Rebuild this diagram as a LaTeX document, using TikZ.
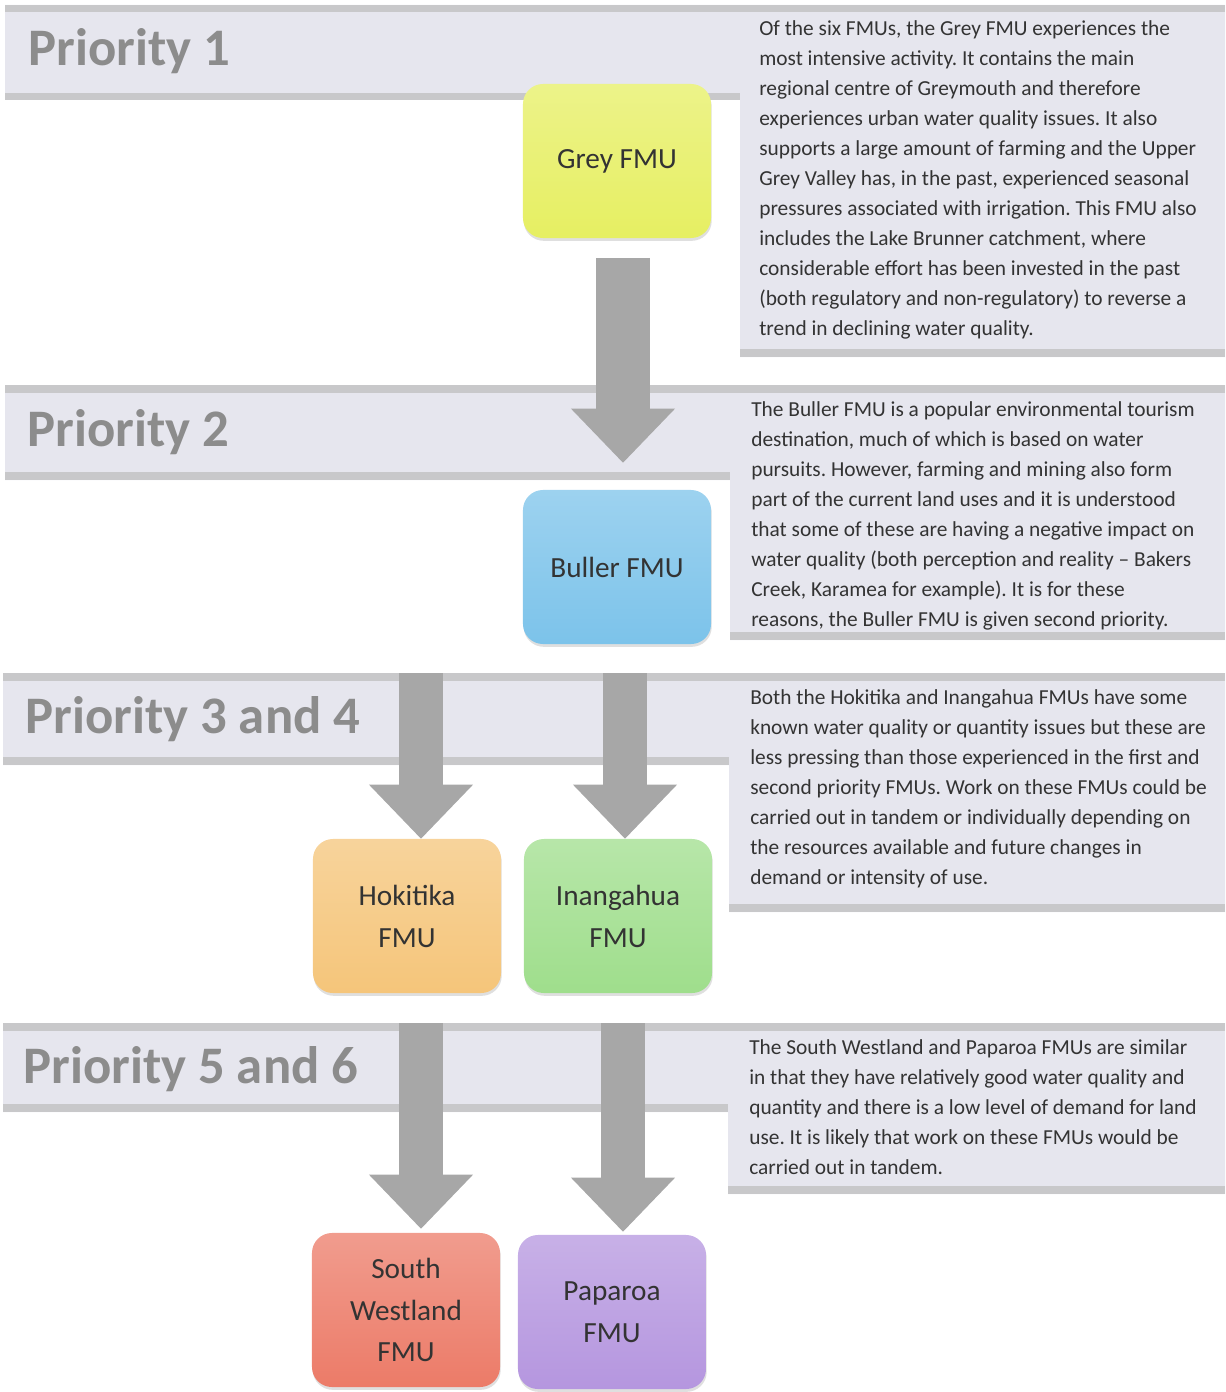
\documentclass[tikz,border=0pt]{standalone}
\usepackage{fontspec}
\setmainfont{Carlito}
\usetikzlibrary{arrows.meta,shadows}
\frenchspacing

\definecolor{bandfill}{HTML}{E6E6EE}
\definecolor{bandline}{HTML}{C8C8CA}
\definecolor{headgrey}{HTML}{8C8C8C}
\definecolor{textgrey}{HTML}{333333}
\definecolor{arrowgrey}{HTML}{A7A7A7}
\definecolor{fmuyellow}{HTML}{E6EF62}
\definecolor{fmublue}{HTML}{7CC3EA}
\definecolor{fmuorange}{HTML}{F5C57A}
\definecolor{fmugreen}{HTML}{9FDE8C}
\definecolor{fmured}{HTML}{EC7B68}
\definecolor{fmupurple}{HTML}{B596DF}

\tikzset{
	heading/.style={anchor=base west, inner sep=0pt, text=headgrey,
		font=\fontsize{37.5}{40}\selectfont\bfseries},
	blurb/.style={anchor=north west, inner sep=0pt, align=left, text=textgrey,
		font=\fontsize{15.2}{21.34}\selectfont},
	fmubox/.style={rounded corners=0.5cm, minimum width=4.7cm, minimum height=3.85cm,
		align=center, text=textgrey, font=\fontsize{20.8}{29.8}\selectfont,
		top color=#1!75!white, bottom color=#1,
		drop shadow={opacity=0.25, shadow xshift=0.5pt, shadow yshift=-2pt}},
	fatarrow/.style={draw=arrowgrey, line width=#1,
		-{Triangle[width=2.6cm, length=1.35cm, line width=0pt]}}
}

\begin{document}
\begin{tikzpicture}[x=0.025cm, y=-0.025cm]

		\useasboundingbox (0,0) rectangle (1225,1392);

		%---------------------
		% bands
		%---------------------
		% P1
		\fill[bandfill] (5,5) -- (1225,5) -- (1225,357) -- (740,357) -- (740,100) -- (5,100) -- cycle;
		\fill[bandline] (5,5) rectangle (1225,12);
		\fill[bandline] (5,93) rectangle (740,100);
		\fill[bandline] (740,349) rectangle (1225,357);

		% P2
		\fill[bandfill] (5,385) -- (1225,385) -- (1225,640) -- (730,640) -- (730,480) -- (5,480) -- cycle;
		\fill[bandline] (5,385) rectangle (1225,393);
		\fill[bandline] (5,472) rectangle (730,480);
		\fill[bandline] (730,632) rectangle (1225,640);

		% P3/4
		\fill[bandfill] (3,673) -- (1225,673) -- (1225,912) -- (729,912) -- (729,765) -- (3,765) -- cycle;
		\fill[bandline] (3,673) rectangle (1225,681);
		\fill[bandline] (3,757) rectangle (729,765);
		\fill[bandline] (729,904) rectangle (1225,912);

		% P5/6
		\fill[bandfill] (3,1023) -- (1225,1023) -- (1225,1194) -- (728,1194) -- (728,1112) -- (3,1112) -- cycle;
		\fill[bandline] (3,1023) rectangle (1225,1031);
		\fill[bandline] (3,1104) rectangle (728,1112);
		\fill[bandline] (728,1186) rectangle (1225,1194);

		% headings
		\node[heading] (p1) at (28,66) {Priority 1};
		\node[heading] (p2) at (27,446) {Priority 2};
		\node[heading] (p34) at (25,733) {Priority 3 and 4};
		\node[heading] (p56) at (23,1083) {Priority 5 and 6};

		%---------------------
		% descriptions
		%---------------------
		\node[blurb] (t1) at (759,20) {Of the six FMUs, the Grey FMU experiences the\\
			most intensive activity. It contains the main\\
			regional centre of Greymouth and therefore\\
			experiences urban water quality issues. It also\\
			supports a large amount of farming and the Upper\\
			Grey Valley has, in the past, experienced seasonal\\
			pressures associated with irrigation. This FMU also\\
			includes the Lake Brunner catchment, where\\
			considerable effort has been invested in the past\\
			(both regulatory and non-regulatory) to reverse a\\
			trend in declining water quality.};

		\node[blurb] (t2) at (751,401) {The Buller FMU is a popular environmental tourism\\
			destination, much of which is based on water\\
			pursuits. However, farming and mining also form\\
			part of the current land uses and it is understood\\
			that some of these are having a negative impact on\\
			water quality (both perception and reality -- Bakers\\
			Creek, Karamea for example). It is for these\\
			reasons, the Buller FMU is given second priority.};

		\node[blurb] (t3) at (750,689) {Both the Hokitika and Inangahua FMUs have some\\
			known water quality or quantity issues but these are\\
			less pressing than those experienced in the first and\\
			second priority FMUs. Work on these FMUs could be\\
			carried out in tandem or individually depending on\\
			the resources available and future changes in\\
			demand or intensity of use.};

		\node[blurb] (t4) at (749,1039) {The South Westland and Paparoa FMUs are similar\\
			in that they have relatively good water quality and\\
			quantity and there is a low level of demand for land\\
			use. It is likely that work on these FMUs would be\\
			carried out in tandem.};

		%---------------------
		% FMUs
		%---------------------
		\node[fmubox=fmuyellow] (grey) at (617,161) {Grey FMU};
		\node[fmubox=fmublue] (buller) at (617,567) {Buller FMU};
		\node[fmubox=fmuorange] (hok) at (407,916) {Hokitika\\FMU};
		\node[fmubox=fmugreen] (ina) at (618,916) {Inangahua\\FMU};
		\node[fmubox=fmured] (sw) at (406,1310) {South\\Westland\\FMU};
		\node[fmubox=fmupurple] (pap) at (612,1312) {Paparoa\\FMU};

		%---------------------
		% arrows
		%---------------------
		\coordinate (a1) at (623,258);
		\coordinate (a3) at (421,673);
		\coordinate (a4) at (625,673);
		\coordinate (a5) at (421,1023);
		\coordinate (a6) at (623,1023);

		\draw[fatarrow=1.33cm, shorten >=0.675cm] (a1) -- (buller.north -| a1);
		\draw[fatarrow=1.08cm] (a3) -- (hok.north -| a3);
		\draw[fatarrow=1.08cm] (a4) -- (ina.north -| a4);
		\draw[fatarrow=1.08cm, shorten >=0.1cm] (a5) -- (sw.north -| a5);
		\draw[fatarrow=1.08cm, shorten >=0.075cm] (a6) -- (pap.north -| a6);

\end{tikzpicture}
\end{document}
